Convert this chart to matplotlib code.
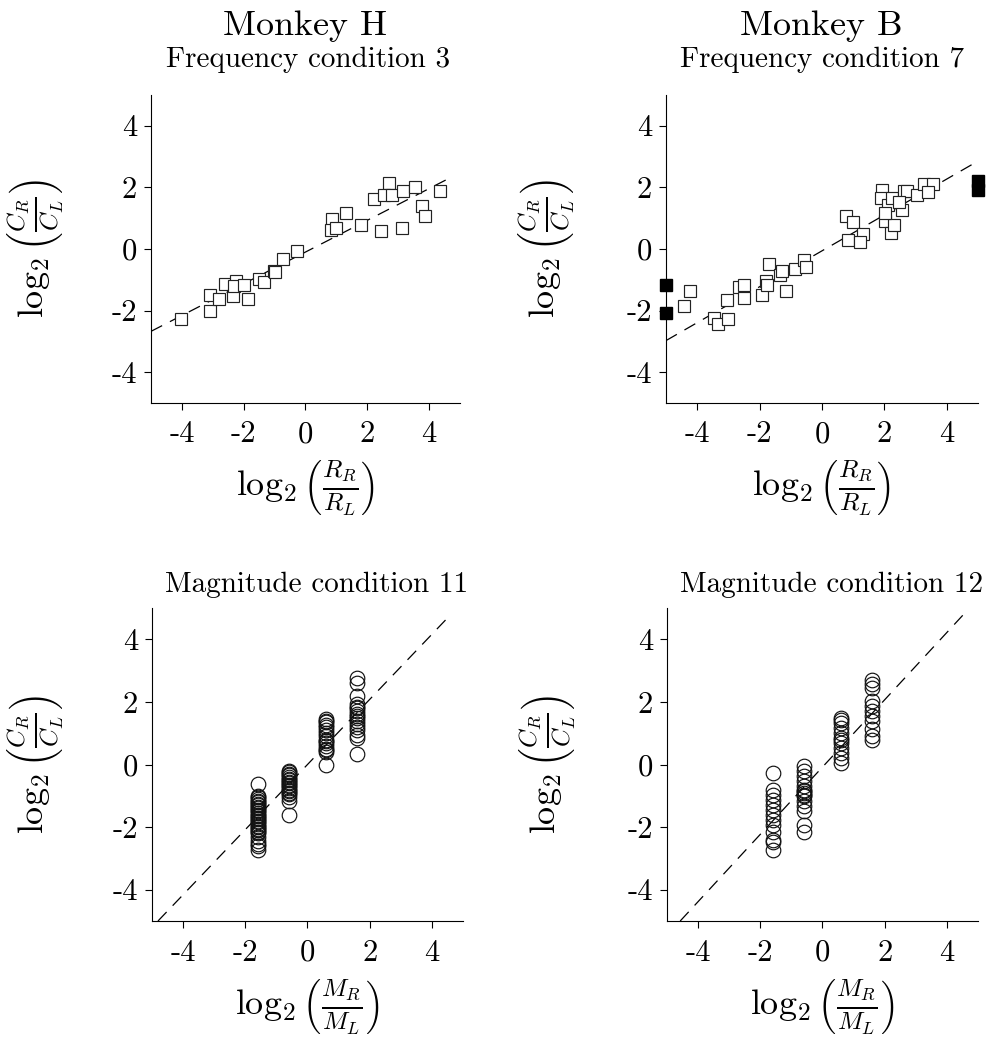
import matplotlib
matplotlib.use("Agg")
import matplotlib.pyplot as plt

plt.rcParams["font.family"] = ["cmr10"]
plt.rcParams["mathtext.fontset"] = "cm"
plt.rcParams["axes.unicode_minus"] = False
plt.rcParams["axes.formatter.use_mathtext"] = True

# ---- data ----
# Monkey H, frequency condition 3
h_freq_x = [-4.02, -3.10, -3.10, -2.81, -2.59, -2.24, -2.33, -2.30, -2.00, -1.86,
            -1.51, -1.34, -1.02, -1.00, -0.74, -0.27, 0.86, 0.84, 1.00, 1.30,
            1.80, 2.22, 2.43, 2.71, 2.55, 2.79, 3.16, 3.14, 3.55, 3.78, 3.87, 4.37]
h_freq_y = [-2.29, -1.51, -2.00, -1.61, -1.15, -1.05, -1.53, -1.21, -1.16, -1.61,
            -0.96, -1.08, -0.72, -0.76, -0.31, -0.05, 0.97, 0.60, 0.68, 1.17,
            0.79, 1.63, 0.59, 2.14, 1.74, 1.74, 1.88, 0.68, 2.01, 1.40, 1.06, 1.87]
h_freq_fit = (0.515, -0.10, 4.65)  # slope, intercept, x end

# Monkey B, frequency condition 7
b_freq_x = [-4.43, -4.24, -3.45, -3.32, -3.00, -3.03, -2.65, -2.50, -2.50, -1.93,
            -1.80, -1.78, -1.69, -1.36, -1.27, -1.14, -0.87, -0.57, -0.53, 0.78,
            0.99, 1.31, 0.82, 1.21, 1.91, 1.89, 2.12, 2.01, 2.22, 2.30,
            2.25, 2.56, 2.62, 2.72, 3.04, 3.28, 3.57, 3.41, 2.03, 2.46]
b_freq_y = [-1.84, -1.38, -2.25, -2.43, -2.27, -1.66, -1.25, -1.17, -1.60, -1.49,
            -1.04, -1.17, -0.48, -0.85, -0.70, -1.38, -0.64, -0.37, -0.59, 1.07,
            0.89, 0.49, 0.30, 0.21, 1.91, 1.64, 1.42, 0.91, 0.51, 0.78,
            1.64, 1.26, 1.87, 1.87, 1.75, 2.12, 2.12, 1.85, 1.16, 1.53]
b_freq_edge_x = [-5, -5, 5, 5]
b_freq_edge_y = [-1.17, -2.09, 1.90, 2.20]
b_freq_fit = (0.583, -0.06, 5.0)

# magnitude conditions: x levels are log2 of 1/3, 2/3, 3/2, 3
mag_levels = [-1.585, -0.585, 0.585, 1.585]

h_mag_cols = [
    [-0.62, -1.0, -1.05, -1.1, -1.15, -1.2, -1.25, -1.3, -1.35, -1.4, -1.45, -1.5,
     -1.55, -1.6, -1.65, -1.7, -1.75, -1.8, -1.85, -1.9, -1.95, -2.0, -2.05, -2.1,
     -2.15, -2.2, -2.3, -2.45, -2.55, -2.6, -2.72],
    [-0.2, -0.25, -0.3, -0.35, -0.4, -0.45, -0.5, -0.55, -0.6, -0.65, -0.7, -0.75,
     -0.8, -0.85, -0.9, -0.95, -1.05, -1.15, -1.6],
    [1.45, 1.4, 1.35, 1.25, 1.2, 1.1, 1.0, 0.9, 0.8, 0.75, 0.7, 0.6, 0.5, 0.45,
     0.4, 0.0],
    [2.75, 2.6, 2.2, 1.95, 1.85, 1.8, 1.7, 1.6, 1.55, 1.5, 1.4, 1.3, 1.2, 1.1,
     0.95, 0.85, 0.35],
]
h_mag_fit = (1.04, 0.0, 4.6)

b_mag_cols = [
    [-0.27, -0.8, -0.96, -1.12, -1.28, -1.44, -1.6, -1.76, -1.93, -2.14, -2.4, -2.46, -2.73],
    [-0.05, -0.2, -0.37, -0.53, -0.7, -0.8, -0.85, -0.91, -0.96, -1.02, -1.18, -1.34,
     -1.5, -1.93, -2.14],
    [1.5, 1.42, 1.34, 1.18, 1.02, 0.86, 0.78, 0.7, 0.53, 0.37, 0.21, 0.05],
    [2.7, 2.57, 2.44, 2.03, 1.87, 1.71, 1.55, 1.39, 1.12, 0.91, 0.8],
]
b_mag_fit = (1.075, -0.08, 4.68)

tick_vals = [-4, -2, 0, 2, 4]
tick_labels = ["-4", "-2", "0", "2", "4"]

ylab = r"$\log_2\left(\frac{C_R}{C_L}\right)$"
xlab_freq = r"$\log_2\left(\frac{R_R}{R_L}\right)$"
xlab_mag = r"$\log_2\left(\frac{M_R}{M_L}\right)$"


def style_axes(ax, xlabel, ylabel_x):
    ax.set_xlim(-5, 5)
    ax.set_ylim(-5, 5)
    ax.spines["top"].set_visible(False)
    ax.spines["right"].set_visible(False)
    for s in ["left", "bottom"]:
        ax.spines[s].set_linewidth(0.8)
    ax.set_xticks(tick_vals)
    ax.set_xticklabels(tick_labels)
    ax.set_yticks(tick_vals)
    ax.set_yticklabels(tick_labels)
    ax.tick_params(axis="both", direction="out", length=5, width=0.8, labelsize=22)
    ax.tick_params(axis="x", pad=8)
    ax.tick_params(axis="y", pad=5)
    ax.set_xlabel(xlabel, fontsize=26)
    ax.set_ylabel(ylab, fontsize=26)
    ax.xaxis.set_label_coords(0.5, -0.18)
    ax.yaxis.set_label_coords(ylabel_x, 0.5)


def draw_fit(ax, fit, x0):
    slope, icpt, x1 = fit
    xs = [x0, x1]
    ys = [slope * v + icpt for v in xs]
    ax.plot(xs, ys, color="black", lw=0.9, dashes=(10, 7), zorder=1)


fig = plt.figure(figsize=(9.96, 10.38), dpi=100)

ax1 = fig.add_axes([0.1516, 0.6118, 0.3102, 0.2967])
ax2 = fig.add_axes([0.6687, 0.6118, 0.3133, 0.2967])
ax3 = fig.add_axes([0.1526, 0.1127, 0.3122, 0.3015])
ax4 = fig.add_axes([0.6697, 0.1127, 0.3122, 0.3015])

sq = dict(marker="s", ls="none", ms=8.5, mfc="white", mec="#222222", mew=0.85, zorder=2)
circ = dict(marker="o", ls="none", ms=10.5, mfc="none", mec="#111111", mew=0.85, zorder=2)

# top left
draw_fit(ax1, h_freq_fit, -5)
ax1.plot(h_freq_x, h_freq_y, **sq)
style_axes(ax1, xlab_freq, -0.275)

# top right
draw_fit(ax2, b_freq_fit, -5)
ax2.plot(b_freq_x, b_freq_y, **sq)
ax2.plot(b_freq_edge_x, b_freq_edge_y, marker="s", ls="none", ms=8.5,
         mfc="black", mec="black", clip_on=False, zorder=3)
style_axes(ax2, xlab_freq, -0.285)

# bottom left
slope, icpt, _ = h_mag_fit
draw_fit(ax3, h_mag_fit, (-5 - icpt) / slope)
for lv, col in zip(mag_levels, h_mag_cols):
    ax3.plot([lv] * len(col), col, **circ)
style_axes(ax3, xlab_mag, -0.275)

# bottom right
slope, icpt, _ = b_mag_fit
draw_fit(ax4, b_mag_fit, (-5 - icpt) / slope)
for lv, col in zip(mag_levels, b_mag_cols):
    ax4.plot([lv] * len(col), col, **circ)
style_axes(ax4, xlab_mag, -0.285)

# titles
fig.text(0.306, 0.9663, "Monkey H", ha="center", va="baseline", fontsize=26)
fig.text(0.825, 0.9663, "Monkey B", ha="center", va="baseline", fontsize=26)
fig.text(0.309, 0.9355, "Frequency condition 3", ha="center", va="baseline", fontsize=21)
fig.text(0.825, 0.9355, "Frequency condition 7", ha="center", va="baseline", fontsize=21)
fig.text(0.318, 0.4297, "Magnitude condition 11", ha="center", va="baseline", fontsize=21)
fig.text(0.835, 0.4297, "Magnitude condition 12", ha="center", va="baseline", fontsize=21)

fig.savefig("out.png", dpi=100)
